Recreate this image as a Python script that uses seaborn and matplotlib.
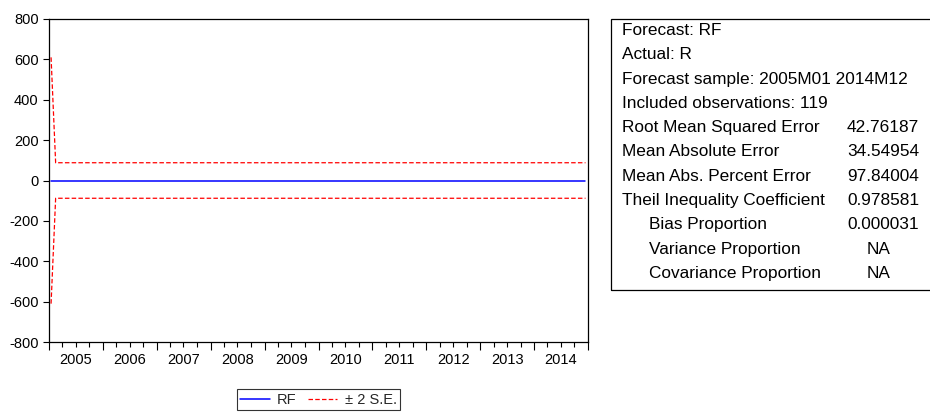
import numpy as np
import pandas as pd
import matplotlib
matplotlib.use("Agg")
import matplotlib.pyplot as plt
import matplotlib.dates as mdates
from matplotlib.patches import Rectangle
import seaborn as sns

# Forecast sample 2005M01 .. 2014M12
months = pd.period_range("2005-01", "2014-12", freq="M")
rf_values = [0.0] * 120
se2_values = [610.0] + [88.0] * 119
year_labels = ["2005", "2006", "2007", "2008", "2009",
               "2010", "2011", "2012", "2013", "2014"]
y_ticks = [-800, -600, -400, -200, 0, 200, 400, 600, 800]

stat_labels = ["Forecast: RF", "Actual: R",
               "Forecast sample: 2005M01 2014M12",
               "Included observations: 119",
               "Root Mean Squared Error", "Mean Absolute Error",
               "Mean Abs. Percent Error", "Theil Inequality Coefficient",
               "Bias Proportion", "Variance Proportion",
               "Covariance Proportion"]
stat_values = ["", "", "", "", "42.76187", "34.54954", "97.84004",
               "0.978581", "0.000031", "NA", "NA"]

sns.set_style("white")
plt.rcParams["font.family"] = ["Liberation Sans", "DejaVu Sans"]
plt.rcParams["axes.unicode_minus"] = False

dates = months.to_timestamp(how="start") + pd.Timedelta(days=14)
df = pd.DataFrame({
    "date": dates,
    "RF": rf_values,
    "upper": np.array(rf_values) + np.array(se2_values),
    "lower": np.array(rf_values) - np.array(se2_values),
})

W, H = 930, 412
fig = plt.figure(figsize=(W / 100, H / 100), dpi=100)
ax = fig.add_axes([49 / W, 1 - 342 / H, (588 - 49) / W, (342 - 19) / H])

red_dash = (3.6, 1.8)
sns.lineplot(data=df, x="date", y="RF", ax=ax, color="#0000ff",
             lw=1.1, label="RF")
sns.lineplot(data=df, x="date", y="upper", ax=ax, color="#ff0000",
             lw=0.9, label="± 2 S.E.").lines[-1].set_dashes(red_dash)
sns.lineplot(data=df, x="date", y="lower", ax=ax, color="#ff0000",
             lw=0.9, label="_nolegend_").lines[-1].set_dashes(red_dash)

ax.set_xlim(pd.Timestamp("2005-01-01"), pd.Timestamp("2015-01-01"))
ax.set_ylim(-800, 800)
ax.set_xlabel("")
ax.set_ylabel("")

for s in ax.spines.values():
    s.set_color("black")
    s.set_linewidth(0.9)

ax.set_yticks(y_ticks)
ax.tick_params(axis="y", direction="out", length=4.5, width=0.8,
               pad=3, labelsize=10.5, colors="black", left=True)

# Year boundaries as long ticks, quarters as short ticks
ax.xaxis.set_major_locator(mdates.YearLocator())
ax.xaxis.set_minor_locator(mdates.MonthLocator(bymonth=[4, 7, 10]))
ax.xaxis.set_major_formatter(plt.NullFormatter())
ax.tick_params(axis="x", which="major", direction="out", length=6,
               width=0.8, bottom=True, colors="black")
ax.tick_params(axis="x", which="minor", direction="out", length=3.5,
               width=0.8, bottom=True, colors="black")

# Year labels centred within each year
sec = ax.secondary_xaxis("bottom")
mid_years = [pd.Timestamp(f"{y}-07-02") for y in year_labels]
sec.set_xticks(mdates.date2num(mid_years), labels=year_labels)
sec.tick_params(length=0, pad=8, labelsize=10.5, colors="black")
sec.spines["bottom"].set_visible(False)

leg = ax.legend(loc="upper center", bbox_to_anchor=(318.5 / W, 1 - 389 / H),
                bbox_transform=fig.transFigure, ncol=2, frameon=True,
                fancybox=False, edgecolor="black", fontsize=10.5,
                handlelength=2.0, handletextpad=0.5, columnspacing=0.8,
                borderpad=0.25, borderaxespad=0)
leg.get_frame().set_linewidth(0.8)

# Forecast evaluation table
fig.patches.append(Rectangle((611 / W, 1 - 290 / H), (940 - 611) / W,
                             (290 - 19) / H, transform=fig.transFigure,
                             fill=False, edgecolor="black", lw=0.9))
indented = {"Bias Proportion", "Variance Proportion", "Covariance Proportion"}
for i, (lab, val) in enumerate(zip(stat_labels, stat_values)):
    yb = 1 - (35 + 24.3 * i) / H
    xl = (649 if lab in indented else 622) / W
    fig.text(xl, yb, lab, fontsize=12.4, va="baseline", ha="left",
             color="black")
    if val:
        xv = (867 if val == "NA" else 847) / W
        fig.text(xv, yb, val, fontsize=12.4, va="baseline", ha="left",
                 color="black")

fig.savefig("out.png", dpi=100, facecolor="white")
